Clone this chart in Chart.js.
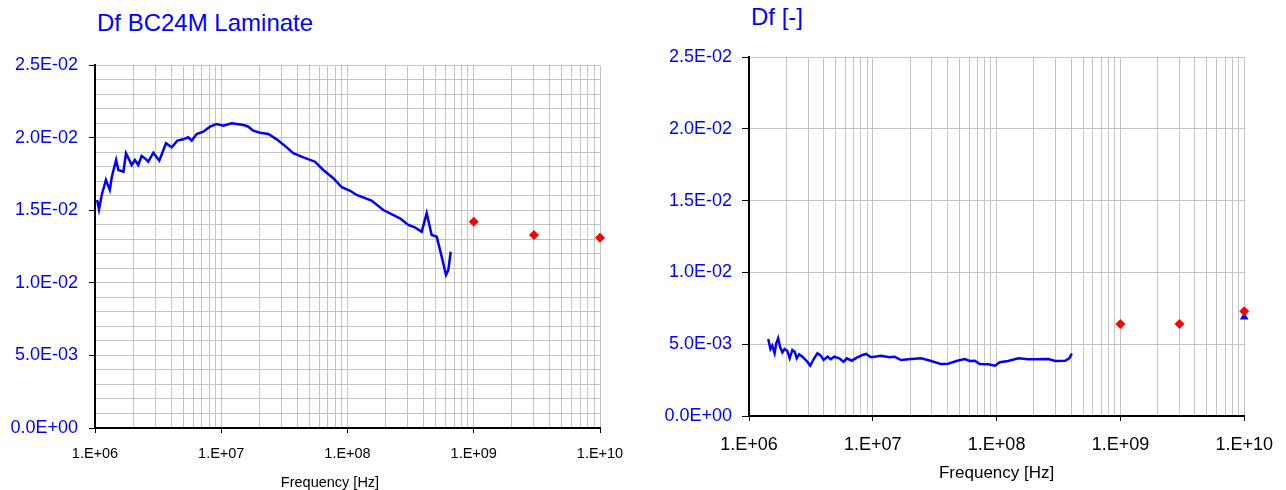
<!DOCTYPE html>
<html>
<head>
<meta charset="utf-8">
<script src="https://cdn.jsdelivr.net/npm/chart.js@4.4.1/dist/chart.umd.min.js"></script>
<style>
  body { margin: 0; background: #fff; width: 1286px; height: 490px; overflow: hidden; position: relative; font-family: "Liberation Sans", Arial, sans-serif; }
  canvas { position: absolute; top: 0; }
  #distr_izq { left: 0; }
  #distr_der { left: 640px; }
  .titulo { position: absolute; color: #0000ff; font-size: 24px; line-height: 1; white-space: nowrap; }
  .eje { position: absolute; color: #000; font-size: 14.5px; line-height: 16px; white-space: nowrap; transform: translateX(-50%); }
</style>
</head>
<body>
<div class="titulo" style="left:97px; top:11px;">Df BC24M Laminate</div>
<div class="titulo" style="left:751px; top:5px;">Df [-]</div>
<canvas id="distr_izq" width="640" height="490"></canvas>
<canvas id="distr_der" width="646" height="490"></canvas>
<div class="eje" style="left:330px; top:474px;">Frequency [Hz]</div>
<script>
// ticks del eje x (decadas) y del eje y
const x_ticks = [1e6, 1e7, 1e8, 1e9, 1e10];
const y_ticks = [0, 0.005, 0.01, 0.015, 0.02, 0.025];

// BC24M laminate, curva medida
const freq_a = [1.04e6, 1.076e6, 1.13e6, 1.16e6, 1.22e6, 1.31e6, 1.36e6, 1.47e6, 1.53e6, 1.68e6,
  1.76e6, 1.87e6, 1.95e6, 2.07e6, 2.20e6, 2.34e6, 2.49e6, 2.64e6, 2.90e6, 3.23e6,
  3.65e6, 4.05e6, 4.49e6, 5.00e6, 5.48e6, 5.83e6, 6.39e6, 7.21e6, 8.15e6, 9.20e6,
  1.04e7, 1.21e7, 1.50e7, 1.64e7, 1.79e7, 2.03e7, 2.36e7, 2.75e7, 3.30e7, 3.72e7,
  4.47e7, 5.53e7, 6.43e7, 7.72e7, 9.00e7, 1.05e8, 1.18e8, 1.55e8, 1.92e8, 2.60e8,
  3.03e8, 3.42e8, 3.87e8, 4.24e8, 4.64e8, 5.09e8, 5.57e8, 6.03e8, 6.29e8, 6.57e8];
const df_a = [0.0157, 0.01506, 0.01605, 0.01639, 0.01708, 0.0164, 0.0173, 0.01846, 0.01777, 0.01765,
  0.01892, 0.01846, 0.01811, 0.01846, 0.01811, 0.01873, 0.01857, 0.01834, 0.01896, 0.01841,
  0.01961, 0.01933, 0.01979, 0.01988, 0.02002, 0.01979, 0.02025, 0.02041, 0.02075, 0.02094,
  0.02082, 0.02098, 0.02087, 0.02075, 0.02048, 0.02034, 0.02025, 0.01988, 0.01933, 0.01892,
  0.01864, 0.01834, 0.01777, 0.0172, 0.01658, 0.01634, 0.01605, 0.01566, 0.01501, 0.01444,
  0.01398, 0.01382, 0.01352, 0.01479, 0.01329, 0.01318, 0.0118, 0.01054, 0.01088, 0.01214];
// puntos sueltos (rombos rojos)
const freq_a_pts = [1e9, 3e9, 1e10];
const df_a_pts = [0.0142, 0.0133, 0.0131];

// grafico derecho
const freq_b = [1.43e6, 1.49e6, 1.54e6, 1.61e6, 1.66e6, 1.72e6, 1.78e6, 1.86e6, 1.94e6, 2.04e6,
  2.13e6, 2.24e6, 2.34e6, 2.43e6, 2.54e6, 2.70e6, 2.96e6, 3.12e6, 3.36e6, 3.57e6,
  3.80e6, 4.00e6, 4.31e6, 4.58e6, 4.88e6, 5.36e6, 5.81e6, 6.18e6, 6.74e6, 7.45e6,
  8.28e6, 8.81e6, 9.67e6, 1.17e7, 1.36e7, 1.50e7, 1.69e7, 2.04e7, 2.46e7, 2.96e7,
  3.53e7, 4.05e7, 4.82e7, 5.53e7, 6.07e7, 6.67e7, 7.32e7, 8.55e7, 9.69e7, 1.06e8,
  1.24e8, 1.50e8, 1.80e8, 2.04e8, 2.62e8, 2.97e8, 3.58e8, 3.86e8, 4.05e8];
const df_b = [0.00536, 0.00467, 0.0049, 0.00437, 0.00506, 0.00541, 0.00483, 0.00443, 0.00467, 0.00453,
  0.00402, 0.0046, 0.00448, 0.00402, 0.0043, 0.00413, 0.00378, 0.0035, 0.00402, 0.00437,
  0.0042, 0.0039, 0.00413, 0.00395, 0.00413, 0.00402, 0.00378, 0.00402, 0.00385, 0.00406,
  0.00425, 0.00432, 0.00409, 0.0042, 0.00409, 0.00413, 0.0039, 0.00397, 0.00402, 0.00383,
  0.00362, 0.00364, 0.00385, 0.00397, 0.00383, 0.00385, 0.00362, 0.0036, 0.0035, 0.00374,
  0.00383, 0.00402, 0.00395, 0.00395, 0.00397, 0.00383, 0.00385, 0.00402, 0.00434];
const freq_b_pts = [1e9, 3e9, 1e10];
const df_b_pts = [0.0064, 0.0064, 0.0073];
const freq_b_tri = [1e10];
const df_b_tri = [0.0069];

const fuente = "'Liberation Sans', Arial, sans-serif";

function pares(xs, ys) {
  return xs.map((x, i) => ({ x: x, y: ys[i] }));
}
function es_decada(v) {
  let l = Math.log10(v);
  return Math.abs(l - Math.round(l)) < 1e-9;
}
function fmt_x(v) {
  let e = Math.round(Math.log10(v));
  return "1.E+" + String(e).padStart(2, "0");
}
function fmt_y(v) {
  let s = v.toExponential(1).toUpperCase();
  return s.replace(/E([+-])(\d)$/, "E$10$2");
}
function es_mayor_y(v) {
  return y_ticks.some(t => Math.abs(t - v) < 1e-9);
}
// ticks log: 1..9 por decada
function ticks_log() {
  let lista = [];
  for (let i = 0; i < x_ticks.length - 1; i++) {
    for (let m = 1; m < 10; m++) lista.push(m * x_ticks[i]);
  }
  lista.push(x_ticks[x_ticks.length - 1]);
  return lista;
}

function crearGrafico(ctx, datasets, cfg) {
  return new Chart(ctx, {
    type: "scatter",
    data: { datasets: datasets },
    options: {
      responsive: false,
      animation: false,
      events: [],
      layout: { padding: cfg.padding },
      plugins: { legend: { display: false }, tooltip: { enabled: false } },
      scales: {
        x: {
          type: "logarithmic",
          min: x_ticks[0],
          max: x_ticks[x_ticks.length - 1],
          afterBuildTicks: (scale) => { scale.ticks = ticks_log().map(v => ({ value: v })); },
          afterFit: (scale) => { scale.height = cfg.x_alto; },
          grid: {
            color: "#c4c4c4",
            tickLength: 5,
            tickColor: (c) => (c.tick && es_decada(c.tick.value)) ? "#000" : "rgba(0,0,0,0)"
          },
          border: { color: "#000", width: 2 },
          ticks: {
            autoSkip: false, maxRotation: 0, padding: cfg.x_pad, color: "#000",
            font: { family: fuente, size: cfg.x_fuente },
            callback: (v) => es_decada(v) ? fmt_x(v) : ""
          },
          title: {
            display: cfg.x_titulo, text: "Frequency [Hz]", color: "#000",
            font: { family: fuente, size: 17 },
            padding: { top: 0, bottom: cfg.titulo_pad }
          }
        },
        y: {
          type: "linear",
          min: y_ticks[0],
          max: y_ticks[y_ticks.length - 1],
          afterFit: (scale) => { scale.width = cfg.y_ancho; },
          grid: {
            color: "#c4c4c4",
            tickLength: cfg.y_tick,
            tickColor: (c) => (c.tick && es_mayor_y(c.tick.value)) ? "#000" : "rgba(0,0,0,0)"
          },
          border: { color: "#000", width: 2 },
          ticks: {
            autoSkip: false, stepSize: cfg.y_paso, padding: cfg.y_pad, color: "#0000ff",
            font: { family: fuente, size: 18 },
            callback: (v) => es_mayor_y(v) ? fmt_y(v) : ""
          }
        }
      }
    }
  });
}

let ctx_izq = document.getElementById("distr_izq").getContext("2d");
let ctx_der = document.getElementById("distr_der").getContext("2d");

crearGrafico(ctx_izq, [
  { data: pares(freq_a_pts, df_a_pts), pointStyle: "rectRot", pointRadius: 5, backgroundColor: "#ff0000", borderColor: "#ff0000", borderWidth: 0, clip: false },
  { data: pares(freq_a, df_a), showLine: true, pointRadius: 0, borderColor: "#0000ff", borderWidth: 2.5 }
], { padding: { left: 5, top: 65, right: 40, bottom: 0 }, x_alto: 62, x_pad: 12, x_fuente: 14.5, x_titulo: false, titulo_pad: 0, y_ancho: 90, y_tick: 6, y_pad: 11, y_paso: 0.001 });

crearGrafico(ctx_der, [
  { data: pares(freq_b_pts, df_b_pts), pointStyle: "rectRot", pointRadius: 5, backgroundColor: "#ff0000", borderColor: "#ff0000", borderWidth: 0, clip: false },
  { data: pares(freq_b_tri, df_b_tri), pointStyle: "triangle", pointRadius: 5, backgroundColor: "#0000ff", borderColor: "#0000ff", borderWidth: 0, clip: false },
  { data: pares(freq_b, df_b), showLine: true, pointRadius: 0, borderColor: "#0000ff", borderWidth: 2.5 }
], { padding: { left: 5, top: 57, right: 41, bottom: 0 }, x_alto: 74, x_pad: 13, x_fuente: 18, x_titulo: true, titulo_pad: 6, y_ancho: 104, y_tick: 7, y_pad: 10, y_paso: 0.005 });
</script>
</body>
</html>
